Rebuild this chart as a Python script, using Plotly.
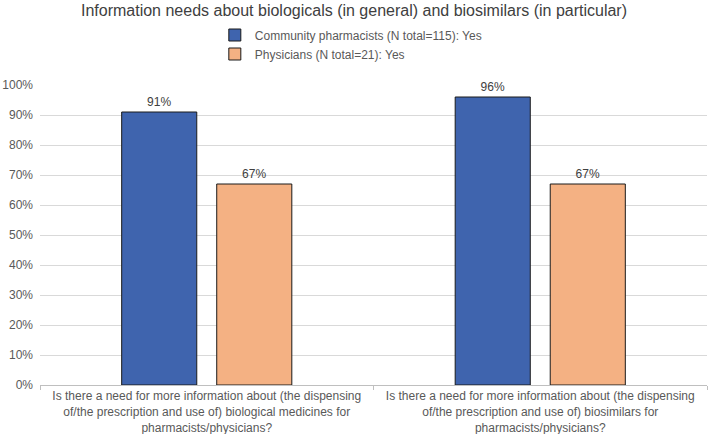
import plotly.graph_objects as go

categories = [
    "Is there a need for more information about (the dispensing<br>of/the prescription and use of) biological medicines for<br>pharmacists/physicians?",
    "Is there a need for more information about (the dispensing<br>of/the prescription and use of) biosimilars for<br>pharmacists/physicians?",
]
pharmacists = [0.91, 0.96]
physicians = [0.67, 0.67]
series_names = ["Community pharmacists (N total=115): Yes", "Physicians (N total=21): Yes"]
y_ticks = [0, 0.1, 0.2, 0.3, 0.4, 0.5, 0.6, 0.7, 0.8, 0.9, 1.0]
y_ticklabels = ["0%", "10%", "20%", "30%", "40%", "50%", "60%", "70%", "80%", "90%", "100%"]

FONT = "Liberation Sans, Arial, sans-serif"
TXT = "#595959"

fig = go.Figure()
fig.add_trace(go.Bar(
    x=categories, y=pharmacists, name=series_names[0],
    marker=dict(color="#3F64AE", line=dict(color="#1a1a1a", width=1)),
    text=[f"{v*100:.0f}%" for v in pharmacists], textposition="outside",
    textfont=dict(size=12, color="#404040", family=FONT), cliponaxis=False,
))
fig.add_trace(go.Bar(
    x=categories, y=physicians, name=series_names[1],
    marker=dict(color="#F4B183", line=dict(color="#1a1a1a", width=1)),
    text=[f"{v*100:.0f}%" for v in physicians], textposition="outside",
    textfont=dict(size=12, color="#404040", family=FONT), cliponaxis=False,
))

fig.update_layout(
    width=708, height=434,
    margin=dict(l=40, r=1, t=85, b=49, autoexpand=False),
    paper_bgcolor="white", plot_bgcolor="white",
    font=dict(family=FONT, size=12, color=TXT),
    barmode="group", bargap=0.43, bargroupgap=0.21,
    uniformtext=dict(mode="show", minsize=12),
    title=dict(text="Information needs about biologicals (in general) and biosimilars (in particular)",
               x=0.5, xanchor="center", y=0.988, yanchor="top",
               font=dict(size=16, color="#404040", family=FONT)),
    legend=dict(orientation="v",
                x=0.466, xanchor="center", y=1.215, yanchor="top",
                font=dict(size=12, color=TXT, family=FONT),
                itemwidth=30, tracegroupgap=0, bgcolor="rgba(0,0,0,0)"),
    showlegend=True,
)
fig.update_xaxes(
    showline=True, linecolor="#BFBFBF", linewidth=1,
    ticks="outside", tickson="boundaries", ticklen=4, tickcolor="#BFBFBF",
    tickangle=0, automargin=False,
    tickfont=dict(size=12, color=TXT, family=FONT), showgrid=False,
)
fig.update_yaxes(
    range=[0, 1.0], tickvals=y_ticks, ticktext=y_ticklabels,
    showgrid=True, gridcolor="#D9D9D9", gridwidth=1, automargin=False,
    zeroline=False, showline=False, ticks="", ticklabelstandoff=6,
    tickfont=dict(size=12, color=TXT, family=FONT),
)

fig.write_html("out.html", config={"displayModeBar": False},
               post_script="document.body.style.margin='0';")
